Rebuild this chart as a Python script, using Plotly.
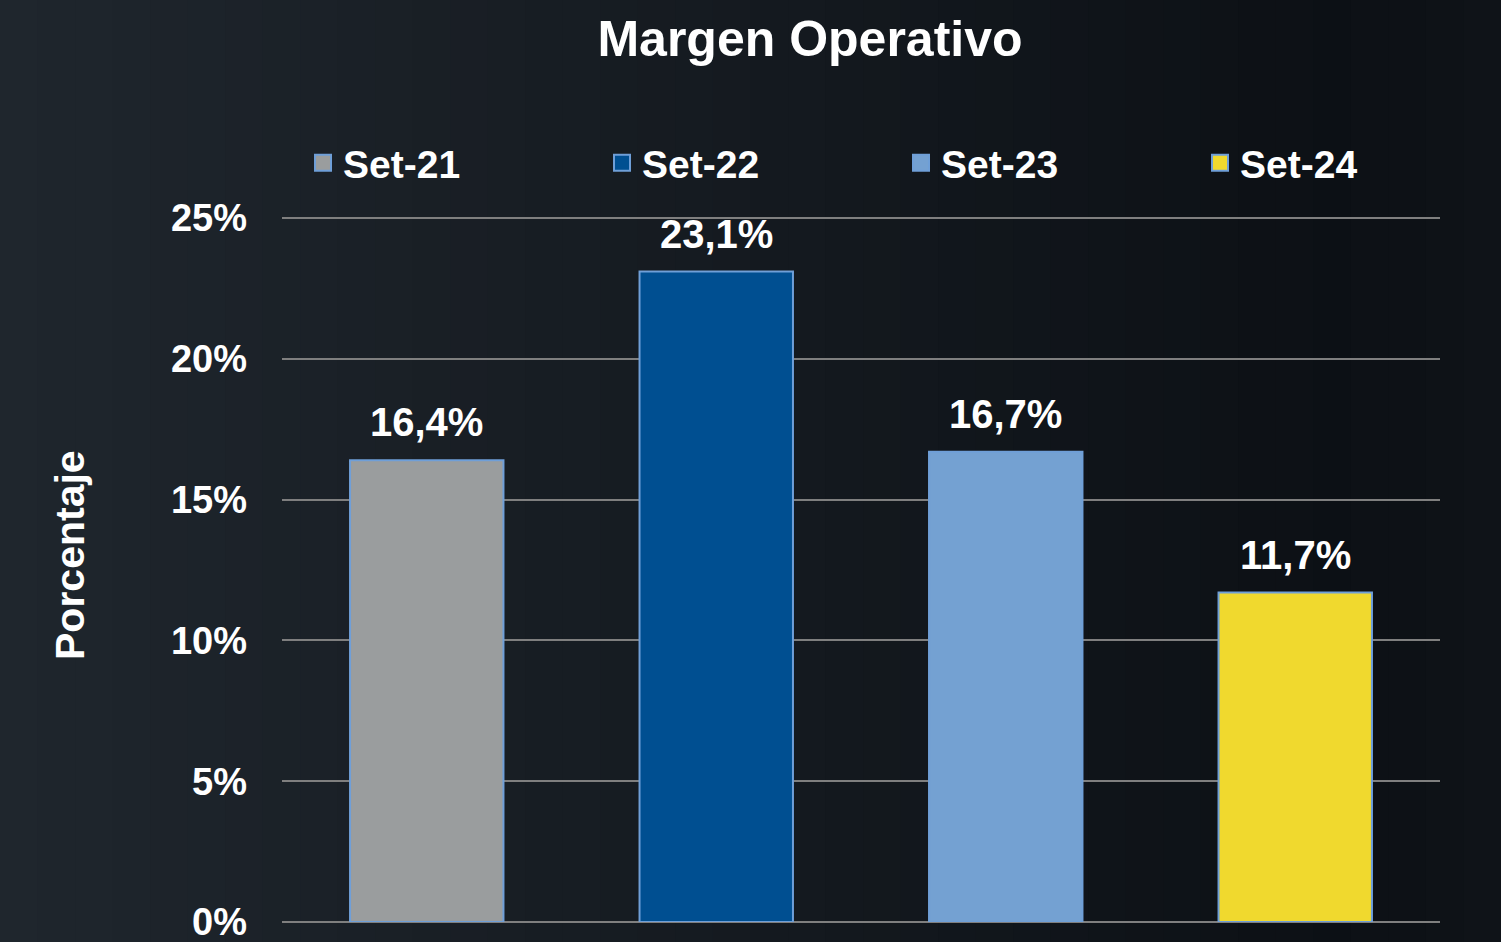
import plotly.graph_objects as go

categories = ["Set-21", "Set-22", "Set-23", "Set-24"]
values = [16.4, 23.1, 16.7, 11.7]
colors = ["#9a9d9e", "#004f91", "#74a1d2", "#f0d92e"]
y_ticks = [0, 5, 10, 15, 20, 25]
y_tick_text = ["0%", "5%", "10%", "15%", "20%", "25%"]

FONT = "Liberation Sans, Arial, sans-serif"
W, H = 1501, 942
ML, MR, MT, MB = 282, 61, 217, 20
PW, PH = W - ML - MR, H - MT - MB

fig = go.Figure()

# background horizontal gradient (decorative)
def lerp(c1, c2, t):
    return tuple(round(a + (b - a) * t) for a, b in zip(c1, c2))

left_c, mid_c, right_c = (31, 38, 45), (12, 16, 21), (15, 19, 24)
n = 40
for i in range(n):
    t = i / (n - 1)
    if t < 0.9:
        c = lerp(left_c, mid_c, t / 0.9)
    else:
        c = lerp(mid_c, right_c, (t - 0.9) / 0.1)
    x0 = (i * W / n - ML) / PW
    x1 = ((i + 1) * W / n + 1 - ML) / PW
    fig.add_shape(type="rect", xref="paper", yref="paper", x0=x0, x1=x1,
                  y0=-(MB + 10) / PH, y1=1 + (MT + 10) / PH,
                  fillcolor="rgb(%d,%d,%d)" % c, line=dict(width=0), layer="below")

for cat, val, col in zip(categories, values, colors):
    fig.add_trace(go.Bar(
        x=[cat], y=[val], name=cat, showlegend=False,
        marker=dict(color=col, line=dict(color="#6f9fd8", width=2)),
        cliponaxis=False,
    ))
    fig.add_annotation(
        x=cat, y=val, text=f"{val:.1f}%".replace(".", ","),
        showarrow=False, yanchor="bottom", yshift=14,
        font=dict(family=FONT, size=40, color="white", weight="bold"),
    )

# legend entries (larger square symbols)
for cat, col in zip(categories, colors):
    fig.add_trace(go.Scatter(
        x=[None], y=[None], mode="markers", name=cat,
        marker=dict(symbol="square", size=16, color=col, line=dict(color="#6f9fd8", width=2)),
    ))

# y-axis title
fig.add_annotation(
    xref="paper", yref="paper", x=(70 - ML) / PW, y=(H - MB - 555) / PH,
    text="Porcentaje", textangle=-90, showarrow=False,
    xanchor="center", yanchor="middle",
    font=dict(family=FONT, size=41, color="white", weight="bold"),
)

fig.update_layout(
    width=W, height=H,
    paper_bgcolor="#161c23", plot_bgcolor="rgba(0,0,0,0)",
    margin=dict(l=ML, r=MR, t=MT, b=MB, autoexpand=False),
    barmode="overlay", bargap=0.47,
    title=dict(text="Margen Operativo", x=810 / W, xanchor="center", y=1 - 38 / H, yanchor="middle",
               font=dict(family=FONT, size=50, color="white", weight="bold")),
    legend=dict(orientation="h", x=-0.0001, xanchor="left", y=1 + 54 / PH, yanchor="middle",
                entrywidth=254, entrywidthmode="pixels",
                title=dict(text="..", side="left",
                           font=dict(family=FONT, size=20, color="rgba(0,0,0,0)")),
                font=dict(family=FONT, size=39, color="white", weight="bold"),
                bgcolor="rgba(0,0,0,0)", itemsizing="trace"),
    xaxis=dict(type="category", categoryorder="array", categoryarray=categories,
               showticklabels=False, showgrid=False, zeroline=False, range=[-0.5, 3.5]),
    yaxis=dict(range=[0, 25.04], tickvals=y_ticks, ticktext=y_tick_text,
               showgrid=True, gridcolor="#7f7f7f", gridwidth=2,
               zeroline=True, zerolinecolor="#7f7f7f", zerolinewidth=2,
               showline=False, ticks="", ticklabelstandoff=34, ticklabeloverflow="allow",
               tickfont=dict(family=FONT, size=38, color="white", weight="bold")),
)

fig.write_html("out.html", config={"displayModeBar": False},
               post_script="document.body.style.margin='0';")
